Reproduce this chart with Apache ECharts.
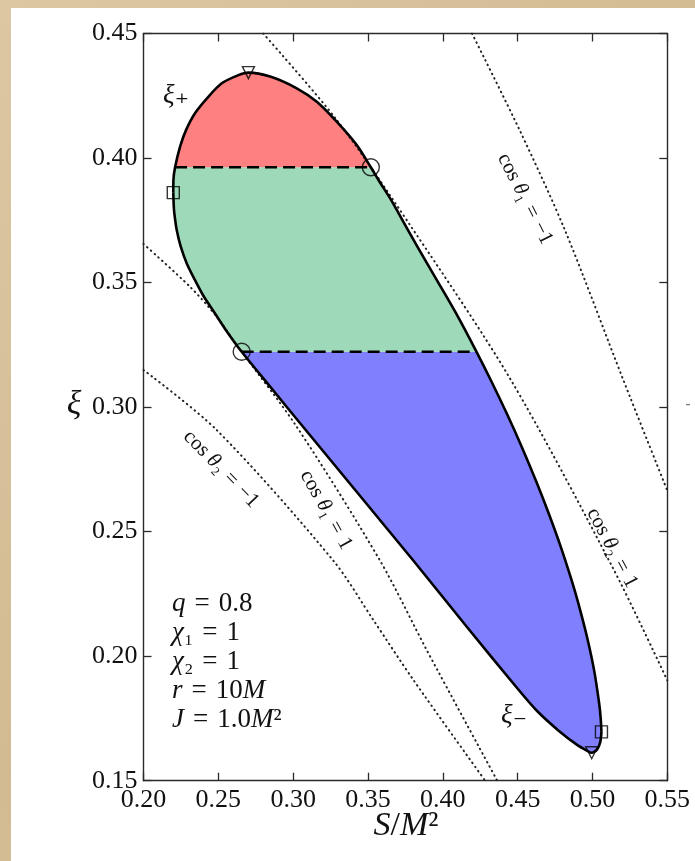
<!DOCTYPE html>
<html><head><meta charset="utf-8">
<script src="https://cdn.jsdelivr.net/npm/echarts@6/dist/echarts.min.js"></script>
<style>
html,body{margin:0;padding:0;width:695px;height:861px;overflow:hidden;}
body{background:linear-gradient(135deg,#dcc7a2 0%,#d2bb93 50%,#dac5a0 100%);}
#paper{position:absolute;left:11px;top:8px;width:684px;height:853px;background:#fff;}
#chart{position:absolute;left:0;top:0;width:695px;height:861px;}
</style></head><body>
<div id="paper"></div><div id="chart"></div>
<script>
// ---------- data ----------
const xMin = 0.20, xMax = 0.55, xStep = 0.05;
const yMin = 0.15, yMax = 0.45, yStep = 0.05;

// xi_+ branch (from S_min to S_max)
const plusS  = [0.2199,0.2200,0.2211,0.2244,0.2284,0.2344,0.2433,0.2523,0.2634,0.2701,0.2846,0.3024,0.3158,0.3291,0.3425,0.3519,0.3570,0.3655,0.3705,0.3830,0.3960,0.4089,0.4227,0.4321,0.4426,0.4527,0.4621,0.4709,0.4790,0.4862,0.4907,0.4964,0.5011,0.5045,0.5055,0.5060];
const plusXi = [0.3861,0.3912,0.3963,0.4045,0.4112,0.4180,0.4246,0.4300,0.4333,0.4343,0.4327,0.4280,0.4226,0.4146,0.4052,0.3963,0.3912,0.3831,0.3778,0.3644,0.3510,0.3376,0.3220,0.3108,0.2976,0.2841,0.2706,0.2571,0.2436,0.2302,0.2209,0.2076,0.1943,0.1809,0.1750,0.1696];
// xi_- branch (from S_min to S_max)
const minusS  = [0.2199,0.2202,0.2206,0.2222,0.2249,0.2289,0.2344,0.2404,0.2478,0.2551,0.2656,0.2846,0.3066,0.3804,0.4160,0.4517,0.4630,0.4776,0.4895,0.4965,0.4995,0.5030,0.5052,0.5060];
const minusXi = [0.3861,0.3810,0.3778,0.3711,0.3644,0.3577,0.3510,0.3443,0.3376,0.3309,0.3222,0.3082,0.2921,0.2383,0.2118,0.1857,0.1780,0.1700,0.1645,0.1620,0.1612,0.1625,0.1655,0.1696];

// markers
const circleS = [0.3519, 0.2656], circleXi = [0.3963, 0.3222];
const squareS = [0.2199, 0.5060], squareXi = [0.3861, 0.1696];
const triS    = [0.2701, 0.4995], triXi    = [0.4343, 0.1612];

// boundary (dotted) curves
const c1pS  = [0.2000,0.2311,0.2489,0.2623,0.3024,0.3581,0.3893,0.4364];
const c1pXi = [0.3655,0.3483,0.3363,0.3249,0.2921,0.2383,0.2024,0.1500];
const c2mS  = [0.2000,0.2489,0.3269,0.3536,0.3804,0.4283];
const c2mXi = [0.3149,0.2908,0.2383,0.2145,0.1904,0.1500];
const c2pS  = [0.2800,0.3291,0.3781,0.4449,0.5140,0.5500];
const c2pXi = [0.4500,0.4153,0.3731,0.3115,0.2350,0.1903];
const c1mS  = [0.4195,0.4515,0.4817,0.5208,0.5500];
const c1mXi = [0.4500,0.4110,0.3709,0.3106,0.2665];

// band colours (low -> high)
const bandColors = ['#8080ff', '#9ed9b9', '#ff8080'];

// ---------- helpers ----------
const pairs = (a, b) => a.map((v, i) => [v, b[i]]);
const loop = pairs(plusS, plusXi).concat(pairs(minusS, minusXi).reverse());
const levels = [circleXi[1], circleXi[0]];
const bandEdges = [yMin - 1, levels[0], levels[1], yMax + 1];

function clipHalf(poly, level, keepAbove) {
  const out = [];
  const inside = p => keepAbove ? p[1] >= level : p[1] <= level;
  for (let i = 0; i < poly.length; i++) {
    const a = poly[i], b = poly[(i + 1) % poly.length];
    const ia = inside(a), ib = inside(b);
    if (ia) out.push(a);
    if (ia !== ib) {
      const t = (level - a[1]) / (b[1] - a[1]);
      out.push([a[0] + t * (b[0] - a[0]), level]);
    }
  }
  return out;
}
function crossings(level) {
  const xs = [];
  for (let i = 0; i < loop.length; i++) {
    const a = loop[i], b = loop[(i + 1) % loop.length];
    if ((a[1] <= level && b[1] > level) || (b[1] <= level && a[1] > level)) {
      const t = (level - a[1]) / (b[1] - a[1]);
      xs.push(a[0] + t * (b[0] - a[0]));
    }
  }
  return [Math.min(...xs), Math.max(...xs)];
}
const dashHi = crossings(levels[1]), dashLo = crossings(levels[0]);

const FONT = "'Liberation Serif', 'DejaVu Serif', serif";
const ink = '#111';
const axisCol = '#2a2a2a';
const EQ = '\u2004=\u2004';

const chart = echarts.init(document.getElementById('chart'), null, {renderer: 'canvas'});

function axisCommon(pos, showLabel) {
  return {
    type: 'value', position: pos,
    axisLine: {show: true, onZero: false, lineStyle: {color: axisCol, width: 1.4}},
    axisTick: {show: true, inside: true, length: 8, lineStyle: {color: axisCol, width: 1.3}},
    splitLine: {show: false},
    axisLabel: {show: showLabel, formatter: v => v.toFixed(2), fontFamily: FONT, fontSize: 26,
      color: '#111', margin: 6, showMinLabel: true, showMaxLabel: true},
  };
}
const xa = Object.assign(axisCommon('bottom', true), {min: xMin, max: xMax, interval: xStep});
const xb = Object.assign(axisCommon('top', false), {min: xMin, max: xMax, interval: xStep});
const ya = Object.assign(axisCommon('left', true), {min: yMin, max: yMax, interval: yStep});
const yb = Object.assign(axisCommon('right', false), {min: yMin, max: yMax, interval: yStep});

const dotted = (d) => ({
  type: 'line', data: d, showSymbol: false, symbol: 'none', silent: true, z: 3, smooth: 0.3,
  lineStyle: {color: '#222', width: 2, type: [0.6, 4.4], cap: 'round'}
});

function richText(x, y, text, size, rot, align) {
  return {
    type: 'text', x: x, y: y, rotation: rot || 0, z: 100,
    style: {
      text: text, fill: ink, fontFamily: FONT, fontSize: size,
      align: align || 'center', verticalAlign: 'middle',
      textAlign: align || 'center', textVerticalAlign: 'middle',
      rich: {
        i: {fontFamily: FONT, fontSize: size, fontStyle: 'italic', fill: ink},
        n: {fontFamily: FONT, fontSize: size, fill: ink}
      }
    }
  };
}
const deg = Math.PI / 180;

chart.setOption({
  animation: false,
  backgroundColor: 'transparent',
  grid: {left: 143.5, right: 27.7, top: 33.5, bottom: 80.3, containLabel: false, outerBoundsMode: 'none'},
  xAxis: [xa, xb],
  yAxis: [ya, yb],
  series: [
    {
      type: 'custom', coordinateSystem: 'cartesian2d', silent: true, z: 1,
      data: [[xMin, 0], [xMin, 1], [xMin, 2]],
      renderItem: function (params, api) {
        const k = params.dataIndex;
        let poly = clipHalf(loop, bandEdges[k], true);
        poly = clipHalf(poly, bandEdges[k + 1], false);
        return {type: 'polygon', shape: {points: poly.map(p => api.coord(p))},
                style: {fill: bandColors[k], stroke: null}};
      }
    },
    dotted(pairs(c1pS, c1pXi)),
    dotted(pairs(c2mS, c2mXi)),
    dotted(pairs(c2pS, c2pXi)),
    dotted(pairs(c1mS, c1mXi)),
    {type: 'line', data: pairs(plusS, plusXi), showSymbol: false, symbol: 'none', z: 5, smooth: 0.25,
     lineStyle: {color: '#000', width: 2.6, join: 'round'}},
    {type: 'line', data: pairs(minusS, minusXi), showSymbol: false, symbol: 'none', z: 5, smooth: 0.25,
     lineStyle: {color: '#000', width: 2.6, join: 'round'}},
    {type: 'line', data: [[dashHi[0], levels[1]], [dashHi[1], levels[1]]], showSymbol: false, symbol: 'none', z: 4,
     lineStyle: {color: '#000', width: 2.4, type: [12, 6]}},
    {type: 'line', data: [[dashLo[0], levels[0]], [dashLo[1], levels[0]]], showSymbol: false, symbol: 'none', z: 4,
     lineStyle: {color: '#000', width: 2.4, type: [12, 6]}},
    {type: 'scatter', data: pairs(circleS, circleXi), symbol: 'circle', symbolSize: 17, z: 6,
     itemStyle: {color: 'rgba(0,0,0,0)', borderColor: '#000', borderWidth: 1.4}},
    {type: 'scatter', data: pairs(squareS, squareXi), symbol: 'rect', symbolSize: 12, z: 6,
     itemStyle: {color: 'rgba(0,0,0,0)', borderColor: '#000', borderWidth: 1.4}},
    {type: 'scatter', data: pairs(triS, triXi), symbol: 'triangle', symbolRotate: 180, symbolSize: 12, z: 6,
     itemStyle: {color: 'rgba(0,0,0,0)', borderColor: '#000', borderWidth: 1.4}}
  ],
  graphic: [
    richText(176, 96, '{i|ξ}{n|₊}', 27),
    richText(514, 716, '{i|ξ}{n|₋}', 27),
    richText(525, 199, 'cos {i|θ}₁' + EQ + '−1', 21, -63 * deg),
    richText(221, 469, 'cos {i|θ}₂' + EQ + '−1', 21, -46 * deg),
    richText(326, 510, 'cos {i|θ}₁' + EQ + '1', 21, -61 * deg),
    richText(612, 548, 'cos {i|θ}₂' + EQ + '1', 21, -62 * deg),
    richText(172, 604, '{i|q}' + EQ + '0.8', 27, 0, 'left'),
    richText(172, 633, '{i|χ}₁' + EQ + '1', 27, 0, 'left'),
    richText(172, 662, '{i|χ}₂' + EQ + '1', 27, 0, 'left'),
    richText(172, 691, '{i|r}' + EQ + '10{i|M}', 27, 0, 'left'),
    richText(172, 720, '{i|J}' + EQ + '1.0{i|M}²', 27, 0, 'left'),
    richText(406, 826, '{i|S}/{i|M}²', 34),
    richText(74, 405, '{i|ξ}', 34),
    {type: 'rect', shape: {x: 686, y: 404, width: 4, height: 1.2}, style: {fill: '#777'}}
  ]
});
</script>
</body></html>
